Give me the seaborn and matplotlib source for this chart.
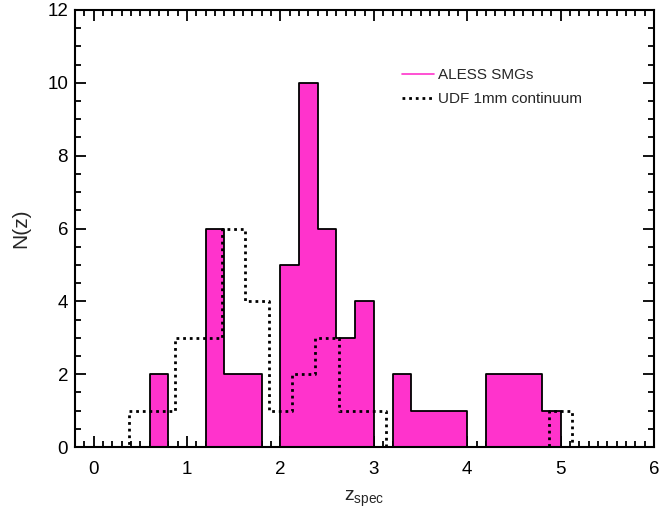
import numpy as np
import pandas as pd
import matplotlib
matplotlib.use("Agg")
from matplotlib import pyplot as plt
from matplotlib.lines import Line2D
from matplotlib.ticker import MultipleLocator
import seaborn as sns

# ALESS SMGs, bins of 0.2 starting at z=0
aless_start = 0.0
aless_width = 0.2
aless_counts = [0, 0, 0, 2, 0, 0, 6, 2, 2, 0,
                5, 10, 6, 3, 4, 0, 2, 1, 1, 1,
                0, 2, 2, 2, 1, 0, 0, 0, 0, 0]

# UDF 1mm continuum, bins of 0.25 centred on multiples of 0.25
udf_start = 0.125
udf_width = 0.25
udf_counts = [0, 1, 1, 3, 3, 6, 4, 1, 2, 3, 1, 1,
              0, 0, 0, 0, 0, 0, 0, 1, 0, 0, 0, 0]

x_ticks = [0, 1, 2, 3, 4, 5, 6]
y_ticks = [0, 2, 4, 6, 8, 10, 12]

sns.set_style("ticks")
plt.rcParams["font.family"] = ["Liberation Sans", "DejaVu Sans"]
plt.rcParams["mathtext.fontset"] = "custom"
plt.rcParams["mathtext.rm"] = "Liberation Sans"

aless_edges = aless_start + aless_width * np.arange(len(aless_counts) + 1)
udf_edges = udf_start + udf_width * np.arange(len(udf_counts) + 1)
aless_df = pd.DataFrame({"z": aless_edges[:-1] + aless_width / 2, "n": aless_counts})
udf_df = pd.DataFrame({"z": udf_edges[:-1] + udf_width / 2, "n": udf_counts})

fig = plt.figure(figsize=(6.59, 5.08), dpi=100)
ax = fig.add_axes([75 / 659, 61 / 508, 579 / 659, 437 / 508])

sns.histplot(data=aless_df, x="z", weights="n", bins=list(aless_edges), element="step",
             fill=True, color="#FF33CC", alpha=1, edgecolor="black", linewidth=1.3, ax=ax)
sns.histplot(data=udf_df, x="z", weights="n", bins=list(udf_edges), element="step",
             fill=False, color="black", linestyle=(0, (1, 1.4)), linewidth=2.0, ax=ax)

ax.set_xlim(-0.2, 6)
ax.set_ylim(0, 12)
ax.set_xticks(x_ticks)
ax.set_yticks(y_ticks)
ax.xaxis.set_minor_locator(MultipleLocator(0.1))
ax.yaxis.set_minor_locator(MultipleLocator(0.5))
ax.tick_params(which="both", direction="in", top=True, right=True, width=1.3,
               labelsize=13.5, colors="black")
ax.tick_params(which="major", length=8)
ax.tick_params(which="minor", length=4.3)
ax.tick_params(axis="x", which="major", pad=10)
ax.tick_params(axis="y", which="major", pad=5)
for s in ax.spines.values():
    s.set_linewidth(1.5)
    s.set_color("black")

ax.set_xlabel(r"$\mathregular{z_{spec}}$", fontsize=14, labelpad=8)
ax.set_ylabel("N(z)", fontsize=15, labelpad=12)

handles = [Line2D([], [], color="#FF33CC", lw=1.2),
           Line2D([], [], color="black", lw=2.0, linestyle=(0, (1, 1.4)))]
ax.legend(handles, ["ALESS SMGs", "UDF 1mm continuum"], loc="upper left",
          bbox_to_anchor=(402 / 659, 1 - 68 / 508), bbox_transform=fig.transFigure,
          frameon=False, fontsize=11, handlelength=2.1, handletextpad=0.25,
          labelspacing=0.65, borderaxespad=0, borderpad=0)

fig.savefig("out.png", dpi=100)
